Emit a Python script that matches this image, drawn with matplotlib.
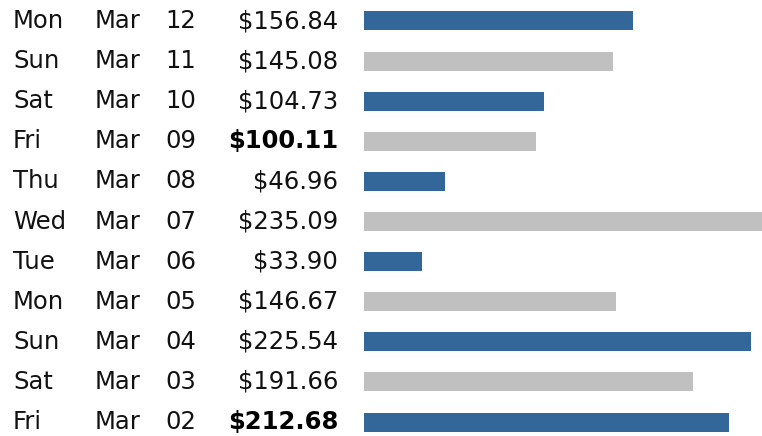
import matplotlib
matplotlib.use('Agg')
import matplotlib.pyplot as plt
from matplotlib.transforms import blended_transform_factory

plt.rcParams['font.family'] = ['DejaVu Sans']

days = ['Mon', 'Sun', 'Sat', 'Fri', 'Thu', 'Wed', 'Tue', 'Mon', 'Sun', 'Sat', 'Fri']
months = ['Mar'] * 11
dates = ['12', '11', '10', '09', '08', '07', '06', '05', '04', '03', '02']
amounts = [156.84, 145.08, 104.73, 100.11, 46.96, 235.09, 33.90, 146.67, 225.54, 191.66, 212.68]
bold_rows = [3, 10]

blue = '#336699'
gray = '#c0c0c0'
colors = [blue if i % 2 == 0 else gray for i in range(len(amounts))]

W, H = 762, 436
fig = plt.figure(figsize=(W / 100, H / 100), dpi=100)
ax = fig.add_axes([364 / W, 0, 1 - 364 / W, 1])
ax.axis('off')

rows = list(range(len(amounts)))
step = 40.1
ax.set_ylim((H - 21) / step, -21 / step)
ax.set_xlim(0, 398 / 1.717)
ax.barh(rows, amounts, height=19 / step, color=colors)

tr = blended_transform_factory(fig.transFigure, ax.transData)
fs = 17.5
tc = '#111111'
for i in rows:
    ax.text(13 / W, i, days[i], transform=tr, fontsize=fs, color=tc, va='center', ha='left')
    ax.text(95 / W, i, months[i], transform=tr, fontsize=fs, color=tc, va='center', ha='left')
    ax.text(165 / W, i, dates[i], transform=tr, fontsize=fs, color=tc, va='center', ha='left')
    ax.text(338 / W, i, '$%.2f' % amounts[i], transform=tr, fontsize=fs, color='black' if i in bold_rows else tc,
            va='center', ha='right', fontweight='bold' if i in bold_rows else 'normal')

fig.savefig('out.png', dpi=100)
